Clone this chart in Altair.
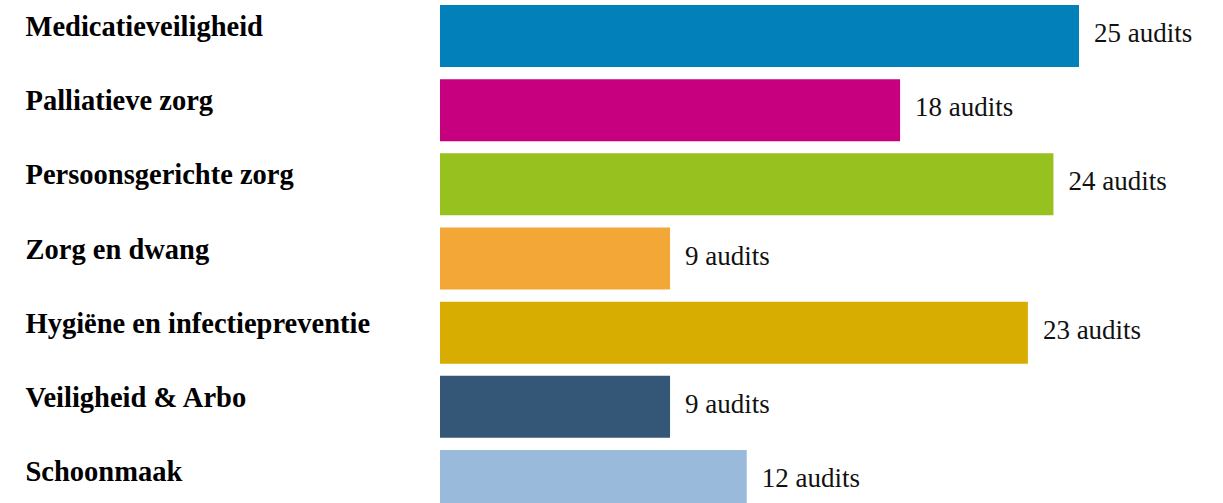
import altair as alt
import pandas as pd

categories = [
    "Medicatieveiligheid",
    "Palliatieve zorg",
    "Persoonsgerichte zorg",
    "Zorg en dwang",
    "Hygiëne en infectiepreventie",
    "Veiligheid & Arbo",
    "Schoonmaak",
]
audits = [25, 18, 24, 9, 23, 9, 12]
colors = ["#0180B9", "#C6007E", "#96C11F", "#F3A736", "#D6AD00", "#345677", "#9ABADC"]
value_labels = [f"{v} audits" for v in audits]

df = pd.DataFrame({"cat": categories, "n": audits, "label": value_labels})

y_enc = alt.Y(
    "cat:N",
    sort=categories,
    title=None,
    scale=alt.Scale(range=[0, 517], paddingInner=0.164, paddingOuter=0.067),
    axis=alt.Axis(
        domain=False,
        ticks=False,
        tickSize=0,
        labelAlign="left",
        labelBaseline="alphabetic",
        labelPadding=415,
        labelLimit=0,
        labelFont="Liberation Serif",
        labelFontWeight="bold",
        labelFontSize=28.5,
        labelColor="#000000",
        grid=False,
    ),
)

x_enc = alt.X("n:Q", title=None, scale=alt.Scale(domain=[0, 25], nice=False), axis=None)

bars = alt.Chart(df).mark_bar().encode(
    x=x_enc,
    y=y_enc,
    color=alt.Color("cat:N", scale=alt.Scale(domain=categories, range=colors), legend=None),
)

text = alt.Chart(df).mark_text(
    align="left",
    baseline="alphabetic",
    dx=15,
    dy=6,
    font="Liberation Serif",
    fontSize=27,
    color="#111111",
).encode(x=x_enc, y=alt.Y("cat:N", sort=categories), text="label:N")

chart = (
    alt.layer(bars, text)
    .properties(
        width=639,
        height=503,
        autosize=alt.AutoSizeParams(type="none"),
        padding={"left": 440, "top": 0, "right": 144, "bottom": 0},
        background="white",
    )
    .configure_view(stroke=None)
)

chart.save("out.html", embed_options={"renderer": "svg", "actions": False})
